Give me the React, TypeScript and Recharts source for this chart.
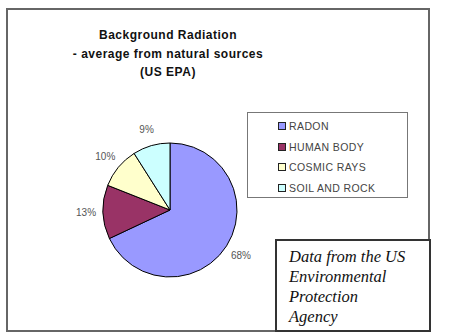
import { PieChart, Pie, Cell, Legend } from 'recharts';

const sources = ['RADON', 'HUMAN BODY', 'COSMIC RAYS', 'SOIL AND ROCK'];
const shares = [68, 13, 10, 9];
const colors = ['#9999FF', '#993366', '#FFFFCC', '#CCFFFF'];
const titleLines = ['Background Radiation', '- average from natural sources', '(US EPA)'];
const noteLines = ['Data from the US', 'Environmental', 'Protection', 'Agency'];

const data = sources.map((name, i) => ({ name, value: shares[i] }));

const RAD = Math.PI / 180;

function renderLabel(props: any) {
  const { cx, cy, midAngle, outerRadius, value } = props;
  const r = outerRadius + 17;
  const x = cx + r * Math.cos(-midAngle * RAD);
  const y = cy + r * Math.sin(-midAngle * RAD);
  return (
    <text x={x} y={y} textAnchor="middle" dominantBaseline="central" fill="#555" fontSize={10} fontFamily="Liberation Sans, Arial, sans-serif">
      {value}%
    </text>
  );
}

function LegendBox() {
  return (
    <div style={{ width: 161, height: 86, border: '1px solid #777', boxSizing: 'border-box', padding: '3px 0 0 30px', background: '#fff' }}>
      {sources.map((s, i) => (
        <div key={s} style={{ display: 'flex', alignItems: 'center', height: 20.5, fontSize: 10.5, letterSpacing: 0.4, color: '#444', fontFamily: 'Liberation Sans, Arial, sans-serif' }}>
          <span style={{ width: 6, height: 6, border: '1px solid #222', background: colors[i], marginRight: 3 }} />
          {s}
        </div>
      ))}
    </div>
  );
}

export default function App() {
  return (
    <div style={{ position: 'absolute', left: 0, top: 0, width: 450, height: 333, background: '#fff', overflow: 'hidden' }}>
      <div style={{ position: 'absolute', left: 6, top: 8, width: 424, height: 324, border: '2px solid #666', boxSizing: 'border-box' }} />
      <div style={{ position: 'absolute', left: 48, top: 26, width: 240, textAlign: 'center', fontFamily: 'Liberation Sans, Arial, sans-serif', fontWeight: 'bold', fontSize: 12, letterSpacing: 0.5, lineHeight: '18.5px', color: '#111' }}>
        {titleLines.map((t) => (
          <div key={t}>{t}</div>
        ))}
      </div>
      <PieChart width={450} height={333} margin={{ top: 0, right: 0, bottom: 0, left: 0 }} style={{ position: 'absolute', left: 0, top: 0 }}>
        <Pie
          data={data}
          dataKey="value"
          nameKey="name"
          cx={170}
          cy={210}
          outerRadius={67}
          startAngle={90}
          endAngle={-270}
          stroke="#000"
          strokeWidth={1}
          label={renderLabel}
          labelLine={false}
          isAnimationActive={false}
        >
          {data.map((d, i) => (
            <Cell key={d.name} fill={colors[i]} />
          ))}
        </Pie>
        <Legend content={<LegendBox />} wrapperStyle={{ position: 'absolute', left: 247, top: 112, width: 161 }} />
      </PieChart>
      <div style={{ position: 'absolute', left: 275, top: 239, width: 156, height: 93, border: '2px solid #333', boxSizing: 'border-box', background: '#fff', padding: '6px 0 0 12px', fontFamily: 'Liberation Serif, Times New Roman, serif', fontStyle: 'italic', fontSize: 16.5, lineHeight: '20px', color: '#111' }}>
        {noteLines.map((t) => (
          <div key={t}>{t}</div>
        ))}
      </div>
    </div>
  );
}
